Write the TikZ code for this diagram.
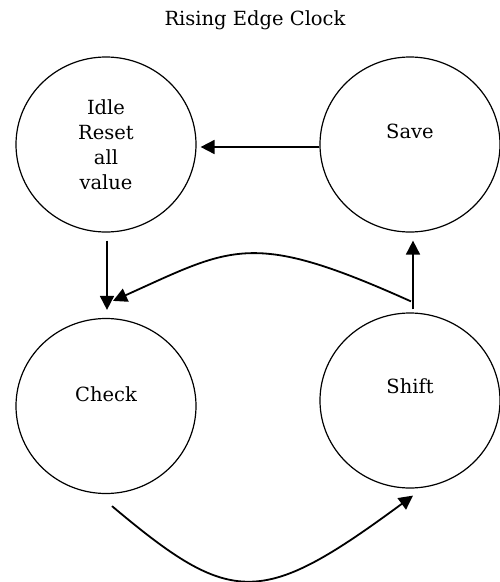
\documentclass[tikz,border=0pt]{standalone}
\usepackage{fontspec}
\setmainfont{DejaVu Serif}
\usetikzlibrary{shapes.geometric,arrows.meta}
\tikzset{
  statenode/.style={ellipse, draw, line width=1.2pt, minimum width=180pt,
    minimum height=175pt, inner sep=0pt, align=center,
    font=\fontsize{19.5}{25}\selectfont},
  statelabel/.style={font=\fontsize{19.5}{25}\selectfont},
  arr/.style={line width=1.8pt, -{Triangle[length=14pt,width=14pt]}}
}
\begin{document}
\begin{tikzpicture}[x=1pt,y=-1pt]
\useasboundingbox (0,0) rectangle (499,582);
\node[statelabel] (title) at (255,20.5) {Rising Edge Clock};
% states
\node[statenode] (idle) at (106,144.5) {Idle\\Reset\\all\\value};
\node[statenode, label={[statelabel,yshift=13pt]center:Save}] (save) at (410,144.5) {};
\node[statenode, label={[statelabel,yshift=12pt]center:Check}] (check) at (106,406) {};
\node[statenode, label={[statelabel,yshift=14pt]center:Shift}] (shift) at (410,400.5) {};
% transitions
\draw[arr, shorten >=4pt] ([yshift=-2.5pt]save.west) -- ([yshift=-2.5pt]idle.east);
\draw[arr, shorten <=8pt, shorten >=8pt] ([xshift=1pt]idle.south) -- ([xshift=1pt]check.north);
\draw[arr, shorten <=3pt, shorten >=8pt] ([xshift=3pt]shift.north) -- ([xshift=3pt]save.south);
\draw[arr] ([xshift=1pt,yshift=11pt]shift.north) .. controls +(-160,-72) and +(120,-54) .. ([xshift=7pt,yshift=17pt]check.north);
\draw[arr] ([xshift=6pt,yshift=-12pt]check.south) .. controls +(120,101) and +(-152,112) .. ([xshift=3pt,yshift=-7pt]shift.south);
\end{tikzpicture}
\end{document}
